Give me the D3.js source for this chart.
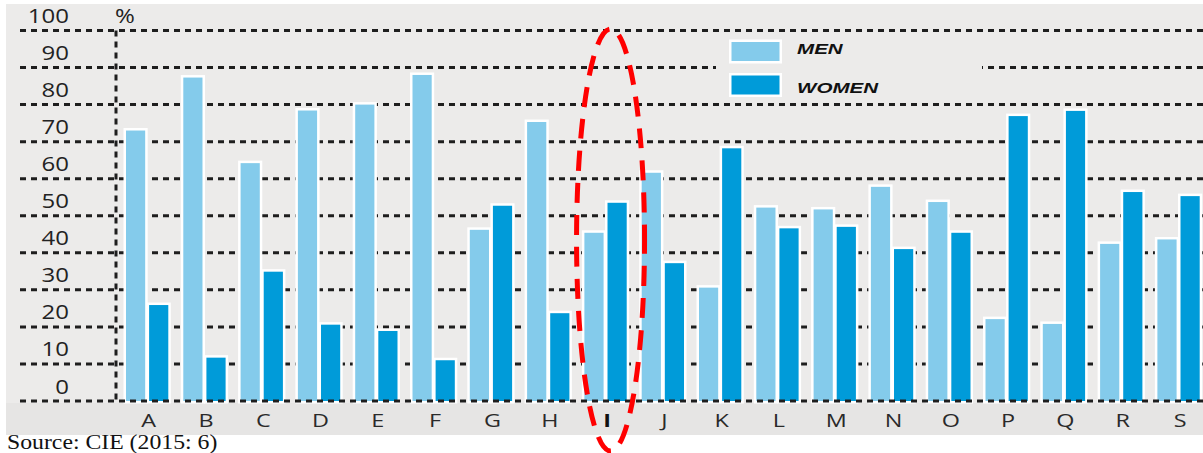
<!DOCTYPE html>
<html>
<head>
<meta charset="utf-8">
<script src="https://cdn.jsdelivr.net/npm/d3@7"></script>
<style>
  html, body { margin: 0; padding: 0; background: #ffffff; }
  svg { display: block; }
</style>
</head>
<body>
<svg id="chart" width="1203" height="453"></svg>
<script>
// Share of men and women (%) by category
const categories = ['A','B','C','D','E','F','G','H','I','J','K','L','M','N','O','P','Q','R','S'];
const men   = [73.0, 87.3, 64.2, 78.4, 80.0, 88.0, 46.2, 75.3, 45.4, 61.6, 30.6, 52.2, 51.7, 57.8, 53.7, 22.1, 20.8, 42.4, 43.6];
const women = [25.9, 11.7, 34.9, 20.6, 18.9, 11.0, 52.7, 23.7, 53.5, 37.2, 68.2, 46.6, 47.0, 41.0, 45.4, 76.9, 78.3, 56.4, 55.3];
const seriesKeys = ['men', 'women'];
const seriesLabels = ['MEN', 'WOMEN'];
const yTicks = [0, 10, 20, 30, 40, 50, 60, 70, 80, 90, 100];
const highlighted = 'I';
const sourceNote = 'Source: CIE (2015: 6)';

const colors = { men: '#84cbeb', women: '#009bd9' };
const rows = categories.map((c, i) => ({ cat: c, men: men[i], women: women[i] }));

const svg = d3.select('#chart');
const W = 1203, H = 453;

const x0 = d3.scaleBand().domain(categories).range([118.5, 1207.2]).paddingInner(0).paddingOuter(0);
const x1 = d3.scaleBand().domain(seriesKeys).range([7.5, 49.8]).paddingInner(0.17);
const y = d3.scaleLinear().domain([0, 100]).range([401, 30.5]);

// panel backgrounds
svg.append('rect').attr('x', 6).attr('y', 4).attr('width', W - 6).attr('height', 431).attr('fill', '#ecebea');
svg.append('rect').attr('x', 6).attr('y', 403).attr('width', W - 6).attr('height', 32).attr('fill', '#e6e5e4');

// horizontal dashed gridlines
svg.append('g').selectAll('line').data(yTicks.filter(t => t > 0)).join('line')
  .attr('x1', 20).attr('x2', W)
  .attr('y1', d => y(d)).attr('y2', d => y(d))
  .attr('stroke', '#1e1e1e').attr('stroke-width', 3).attr('stroke-dasharray', '6,5');

// legend panel (covers the grid behind it)
const legend = svg.append('g');
legend.append('rect').attr('x', 716).attr('y', 38).attr('width', 266).attr('height', 62).attr('fill', '#ecebea');
const legendY = [42, 75.5];
const legendTextY = [53.5, 93];
seriesKeys.forEach((k, i) => {
  legend.append('rect')
    .attr('x', 731.5).attr('y', legendY[i]).attr('width', 48).attr('height', 19)
    .attr('fill', colors[k]).attr('stroke', '#fff').attr('stroke-width', 5)
    .style('paint-order', 'stroke');
  legend.append('text')
    .attr('transform', `translate(797,${legendTextY[i]}) scale(1.47,1)`)
    .attr('font-family', '"Liberation Sans", Arial, sans-serif')
    .attr('font-size', 14).attr('font-weight', 'bold').attr('font-style', 'italic')
    .attr('fill', '#111').text(seriesLabels[i]);
});

// bars
const groups = svg.append('g').selectAll('g').data(rows).join('g')
  .attr('transform', d => `translate(${x0(d.cat)},0)`);
groups.selectAll('rect').data(d => seriesKeys.map(k => ({ key: k, value: d[k] }))).join('rect')
  .attr('x', d => x1(d.key))
  .attr('width', x1.bandwidth())
  .attr('y', d => y(d.value))
  .attr('height', d => y(0) - y(d.value))
  .attr('fill', d => colors[d.key])
  .attr('stroke', '#fff').attr('stroke-width', 5)
  .style('paint-order', 'stroke');

// baseline
svg.append('line').attr('x1', 20).attr('x2', W).attr('y1', y(0)).attr('y2', y(0))
  .attr('stroke', '#1e1e1e').attr('stroke-width', 3).attr('stroke-dasharray', '6,5');

// vertical dashed axis line
svg.append('line').attr('x1', 116).attr('x2', 116).attr('y1', y(100)).attr('y2', y(0))
  .attr('stroke', '#1e1e1e').attr('stroke-width', 3).attr('stroke-dasharray', '6,5');

// y tick labels, sitting above their gridlines
const yAxis = d3.axisLeft(y).tickValues(yTicks).tickSize(0).tickPadding(0);
const yg = svg.append('g').attr('transform', 'translate(69,0)').call(yAxis);
yg.select('.domain').remove();
yg.selectAll('.tick text')
  .attr('x', 0).attr('y', 0).attr('dy', null)
  .attr('text-anchor', 'end')
  .attr('font-family', '"Open Sans", sans-serif').attr('font-size', 19.5)
  .attr('fill', '#222')
  .attr('transform', 'translate(0,-8) scale(1.23,1)');

svg.append('text')
  .attr('transform', 'translate(115,22.5) scale(1.23,1)')
  .attr('font-family', '"Open Sans", sans-serif').attr('font-size', 19.5)
  .attr('fill', '#222').text('%');

// category labels
const xAxis = d3.axisBottom(x0).tickSize(0).tickPadding(0);
const xg = svg.append('g').attr('transform', 'translate(1.5,0)').call(xAxis);
xg.select('.domain').remove();
xg.selectAll('.tick text')
  .attr('y', 0).attr('dy', null)
  .attr('transform', 'translate(0,426.5) scale(1.3,1)')
  .attr('text-anchor', 'middle')
  .attr('font-family', '"Open Sans", sans-serif').attr('font-size', 18)
  .attr('fill', d => d === highlighted ? '#111' : '#2a2a2a')
  .attr('font-weight', d => d === highlighted ? 'bold' : null);

// source note
svg.append('text').attr('transform', 'translate(7,449) scale(1.08,1)')
  .attr('font-family', '"Liberation Serif", "Times New Roman", serif')
  .attr('font-size', 22).attr('fill', '#111').text(sourceNote);

// highlight ring around the emphasised category
const cx = x0(highlighted) + x0.bandwidth() / 2 + 5;
svg.append('ellipse')
  .attr('cx', cx).attr('cy', 240).attr('rx', 34).attr('ry', 211)
  .attr('fill', 'none').attr('stroke', '#ff0000').attr('stroke-width', 5)
  .attr('stroke-dasharray', '20,12').attr('stroke-dashoffset', 6);
</script>
</body>
</html>
